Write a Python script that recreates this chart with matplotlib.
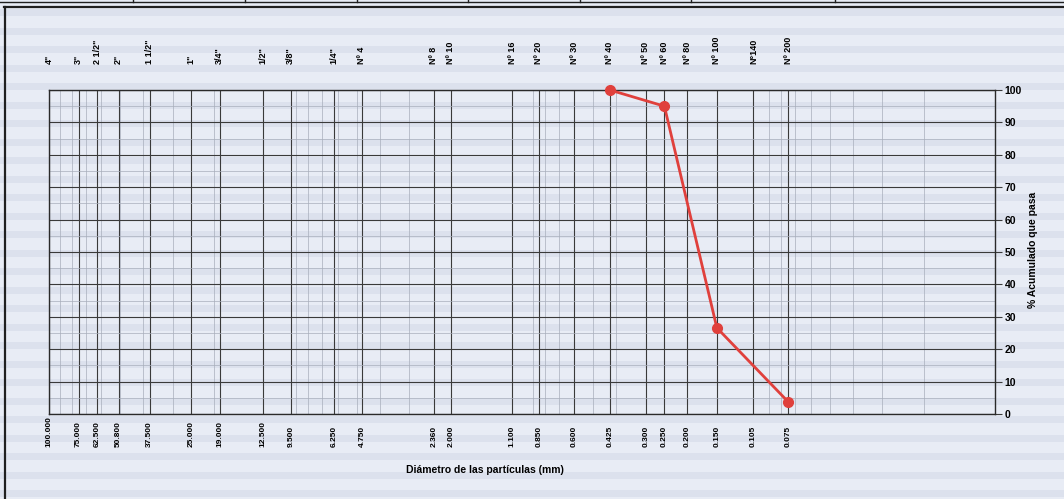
import numpy as np
import matplotlib
matplotlib.use("Agg")
import matplotlib.pyplot as plt
from matplotlib.lines import Line2D
from matplotlib.ticker import FixedLocator, NullFormatter, LogLocator
from matplotlib.transforms import blended_transform_factory

# ==========================================================
# DATA
# ==========================================================
sieve_names = ['4"', '3"', '2 1/2"', '2"', '1 1/2"', '1"', '3/4"', '1/2"', '3/8"',
               '1/4"', 'Nº 4', 'Nº 8', 'Nº 10', 'Nº 16', 'Nº 20', 'Nº 30', 'Nº 40',
               'Nº 50', 'Nº 60', 'Nº 80', 'Nº 100', 'N°140', 'Nº 200']
sieve_sizes = [100.0, 75.0, 62.5, 50.8, 37.5, 25.0, 19.0, 12.5, 9.5, 6.25, 4.75,
               2.36, 2.0, 1.1, 0.85, 0.6, 0.425, 0.3, 0.25, 0.2, 0.15, 0.105, 0.075]

curve_sizes = [0.425, 0.25, 0.15, 0.075]
curve_pass = [100.0, 95.0, 26.6, 3.8]

y_ticks = list(range(0, 101, 10))

# ==========================================================
# FIGURE
# ==========================================================
W, H = 1064, 499
bg = "#e8ecf5"
plt.rcParams["font.family"] = ["Liberation Sans", "DejaVu Sans"]
fig = plt.figure(figsize=(W / 100, H / 100), dpi=100, facecolor=bg)

# faint stripes standing in for the scanned letterhead paper
for yy in np.arange(H - 12, 0, -18.5):
    fig.add_artist(Line2D([0, 1], [yy / H, yy / H], color="#dce1ed",
                          lw=5, zorder=-1))


# page frame
def px_line(x0, y0, x1, y1, lw, c="#202020"):
    fig.add_artist(Line2D([x0 / W, x1 / W], [1 - y0 / H, 1 - y1 / H],
                          color=c, lw=lw, zorder=5))


px_line(0, 1.5, W, 1.5, 1.0)
px_line(4, 7, W, 7, 1.6)
px_line(4.5, 7, 4.5, H, 1.6)
for xs in [133, 245, 357, 468, 580, 691, 835]:
    px_line(xs, 0, xs, 2, 1.0)

ax = fig.add_axes([49 / W, 1 - 414 / H, (995 - 49) / W, (414 - 90) / H])
ax.set_facecolor("none")
ax.set_xscale("log")
ax.set_xlim(100, 0.01)
ax.set_ylim(0, 100)

# grid
ax.xaxis.set_major_locator(FixedLocator(sieve_sizes))
ax.xaxis.set_major_formatter(NullFormatter())
ax.xaxis.set_minor_locator(LogLocator(base=10, subs=np.arange(2, 10)))
ax.xaxis.set_minor_formatter(NullFormatter())
ax.tick_params(axis="x", which="both", length=0)
ax.grid(True, which="major", axis="x", color="#3a3a3a", lw=0.8)
ax.grid(True, which="minor", axis="x", color="#a8aebb", lw=0.5)

ax.yaxis.set_major_locator(FixedLocator(y_ticks))
ax.yaxis.set_minor_locator(FixedLocator([v + 5 for v in y_ticks[:-1]]))
ax.grid(True, which="major", axis="y", color="#3a3a3a", lw=0.8)
ax.grid(True, which="minor", axis="y", color="#a8aebb", lw=0.5)
ax.yaxis.tick_right()
ax.tick_params(axis="y", which="major", length=5, width=0.8, color="#3a3a3a",
               labelsize=7.5, pad=2)
ax.tick_params(axis="y", which="minor", length=0)
for lab in ax.get_yticklabels():
    lab.set_fontweight("bold")

for sp in ax.spines.values():
    sp.set_color("#2a2a2a")
    sp.set_linewidth(1.0)

# sieve names above, openings below
trans = blended_transform_factory(ax.transData, ax.transAxes)
for name, size in zip(sieve_names, sieve_sizes):
    ax.text(size, 1.08, name, transform=trans, rotation=90, ha="center",
            va="bottom", fontsize=6.5, fontweight="bold", clip_on=False)
    ax.text(size, -0.102, f"{size:.3f}", transform=trans, rotation=90,
            ha="center", va="bottom", fontsize=6, fontweight="bold",
            clip_on=False)

# grading curve
ax.plot(curve_sizes, curve_pass, color="#e0403c", lw=2.0, marker="o",
        markersize=7, zorder=6, clip_on=False)

fig.text(485 / W, 1 - 470 / H, "Diámetro de las partículas (mm)", ha="center",
         va="center", fontsize=7.5, fontweight="bold")
fig.text(1033 / W, 1 - 250 / H, "% Acumulado que pasa", ha="center",
         va="center", rotation=90, fontsize=7.5, fontweight="bold")

fig.savefig("out.png", dpi=100, facecolor=bg)
